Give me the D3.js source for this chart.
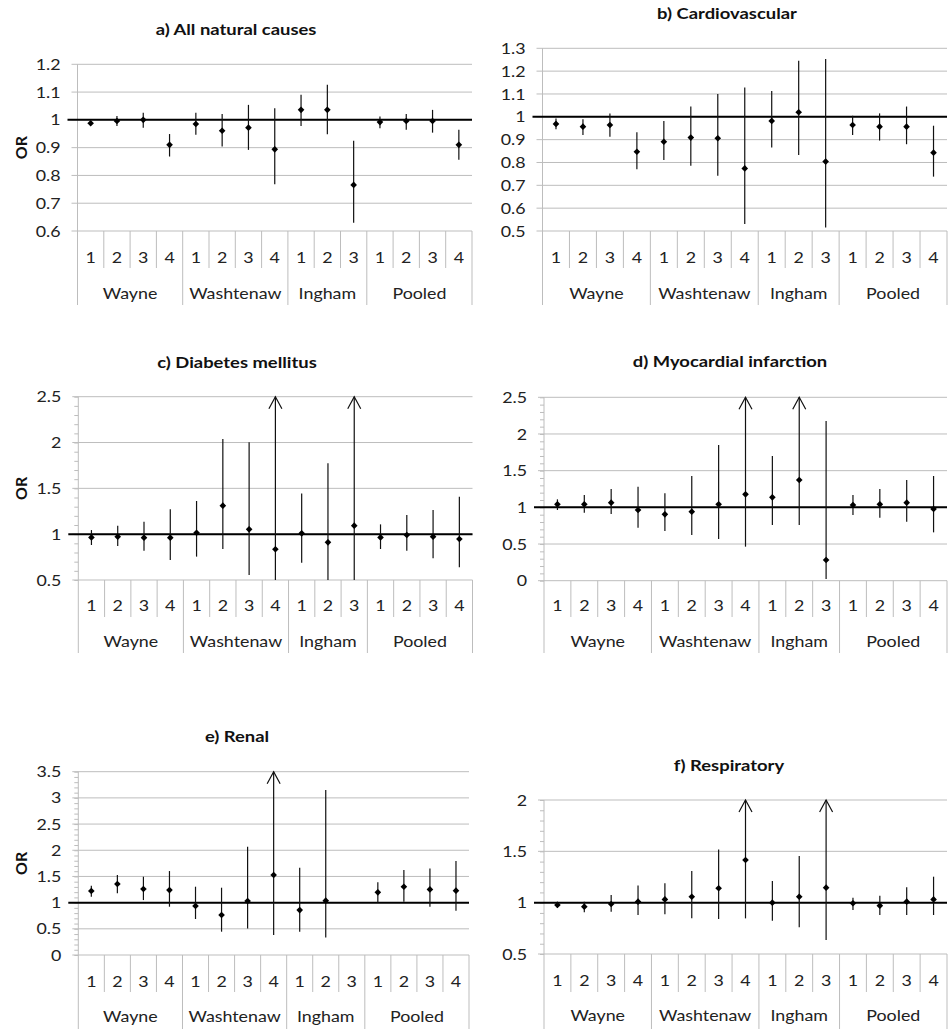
<!DOCTYPE html>
<html>
<head>
<meta charset="utf-8">
<script src="https://cdn.jsdelivr.net/npm/d3@7"></script>
<style>
  body { margin: 0; background: #fff; }
  svg { display: block; font-family: Lato, "Open Sans", sans-serif; }
</style>
</head>
<body>
<div id="chart"></div>
<script>
// categories: county groups and lag days
const groups = ["Wayne", "Washtenaw", "Ingham", "Pooled"];
const lags = [[1, 2, 3, 4], [1, 2, 3, 4], [1, 2, 3], [1, 2, 3, 4]];

// a) All natural causes
const natOR = [0.988, 0.996, 1.000, 0.910, 0.985, 0.961, 0.972, 0.894, 1.036, 1.036, 0.766, 0.992, 0.996, 0.996, 0.910];
const natLo = [0.980, 0.978, 0.972, 0.868, 0.946, 0.904, 0.892, 0.768, 0.978, 0.948, 0.630, 0.970, 0.964, 0.954, 0.856];
const natHi = [0.996, 1.014, 1.026, 0.949, 1.026, 1.021, 1.054, 1.042, 1.090, 1.126, 0.925, 1.012, 1.021, 1.036, 0.964];

// b) Cardiovascular
const cvdOR = [0.969, 0.957, 0.964, 0.847, 0.891, 0.909, 0.906, 0.774, 0.982, 1.020, 0.804, 0.964, 0.957, 0.957, 0.843];
const cvdLo = [0.945, 0.920, 0.913, 0.770, 0.811, 0.786, 0.742, 0.531, 0.866, 0.833, 0.515, 0.920, 0.896, 0.880, 0.738];
const cvdHi = [0.993, 0.989, 1.015, 0.932, 0.982, 1.045, 1.100, 1.128, 1.113, 1.245, 1.253, 1.005, 1.015, 1.045, 0.961];

// c) Diabetes mellitus
const dmOR = [0.965, 0.973, 0.962, 0.962, 1.016, 1.311, 1.053, 0.835, 1.009, 0.911, 1.093, 0.965, 0.991, 0.973, 0.947];
const dmLo = [0.882, 0.871, 0.820, 0.718, 0.755, 0.838, 0.555, 0.400, 0.689, 0.450, 0.450, 0.838, 0.820, 0.736, 0.638];
const dmHi = [1.045, 1.093, 1.136, 1.271, 1.362, 2.038, 2.002, 3.200, 1.445, 1.773, 3.500, 1.107, 1.209, 1.264, 1.409];

// d) Myocardial infarction
const miOR = [1.041, 1.041, 1.064, 0.964, 0.905, 0.941, 1.041, 1.177, 1.136, 1.373, 0.282, 1.032, 1.041, 1.064, 0.977];
const miLo = [0.964, 0.927, 0.909, 0.723, 0.677, 0.623, 0.568, 0.464, 0.759, 0.759, 0.023, 0.895, 0.859, 0.805, 0.659];
const miHi = [1.109, 1.168, 1.250, 1.282, 1.191, 1.427, 1.850, 3.000, 1.700, 2.900, 2.177, 1.168, 1.250, 1.373, 1.427];

// e) Renal (Ingham lag 3 not estimated)
const renOR = [1.221, 1.355, 1.260, 1.240, 0.935, 0.763, 1.030, 1.527, 0.858, 1.037, null, 1.196, 1.304, 1.253, 1.228];
const renLo = [1.113, 1.177, 1.049, 0.922, 0.687, 0.445, 0.508, 0.381, 0.445, 0.336, null, 0.998, 1.017, 0.922, 0.846];
const renHi = [1.323, 1.527, 1.495, 1.603, 1.304, 1.285, 2.068, 4.500, 1.667, 3.150, null, 1.387, 1.622, 1.654, 1.794];

// f) Respiratory
const resOR = [0.977, 0.961, 0.987, 1.010, 1.032, 1.058, 1.140, 1.416, 1.000, 1.058, 1.146, 0.994, 0.971, 1.010, 1.032];
const resLo = [0.951, 0.906, 0.912, 0.880, 0.886, 0.847, 0.841, 0.847, 0.825, 0.760, 0.636, 0.929, 0.880, 0.880, 0.880];
const resHi = [1.010, 1.010, 1.075, 1.166, 1.188, 1.308, 1.519, 2.400, 1.211, 1.455, 2.600, 1.049, 1.068, 1.149, 1.253];

// y ticks per panel
const natTicks = [0.6, 0.7, 0.8, 0.9, 1, 1.1, 1.2];
const cvdTicks = [0.5, 0.6, 0.7, 0.8, 0.9, 1, 1.1, 1.2, 1.3];
const dmTicks = [0.5, 1, 1.5, 2, 2.5];
const miTicks = [0, 0.5, 1, 1.5, 2, 2.5];
const renTicks = [0, 0.5, 1, 1.5, 2, 2.5, 3, 3.5];
const resTicks = [0.5, 1, 1.5, 2];

// flat category list
let cats = [];
groups.forEach((g, gi) => lags[gi].forEach(l => cats.push({ group: g, gi: gi, lag: l, id: g + "-" + l })));

function rows(or, lo, hi) {
    return cats.map((c, i) => ({ cat: c, or: or[i], lo: lo[i], hi: hi[i] }));
}

const panels = [
    { title: "a) All natural causes", data: rows(natOR, natLo, natHi), ticks: natTicks, minor: false, showOR: true,
      left: 77.5, right: 472, top: 64.3, bottom: 231, digitY: 257, groupY: 293, sepShort: 268, sepLong: 305, titleX: 236, titleY: 35 },
    { title: "b) Cardiovascular", data: rows(cvdOR, cvdLo, cvdHi), ticks: cvdTicks, minor: false, showOR: false,
      left: 542.5, right: 947, top: 48.3, bottom: 231, digitY: 257, groupY: 293, sepShort: 268, sepLong: 305, titleX: 727, titleY: 19 },
    { title: "c) Diabetes mellitus", data: rows(dmOR, dmLo, dmHi), ticks: dmTicks, minor: true, showOR: true,
      left: 78.3, right: 472.5, top: 396.7, bottom: 580, digitY: 605, groupY: 641.7, sepShort: 617, sepLong: 653, titleX: 237, titleY: 368 },
    { title: "d) Myocardial infarction", data: rows(miOR, miLo, miHi), ticks: miTicks, minor: true, showOR: false,
      left: 544, right: 947, top: 397.3, bottom: 580.7, digitY: 605, groupY: 641.7, sepShort: 617, sepLong: 653, titleX: 730, titleY: 367 },
    { title: "e) Renal", data: rows(renOR, renLo, renHi), ticks: renTicks, minor: true, showOR: true,
      left: 78.3, right: 469, top: 771.7, bottom: 955, digitY: 981.7, groupY: 1016.7, sepShort: 992, sepLong: 1029, titleX: 237, titleY: 742 },
    { title: "f) Respiratory", data: rows(resOR, resLo, resHi), ticks: resTicks, minor: true, showOR: false,
      left: 544, right: 947, top: 800, bottom: 954, digitY: 980, groupY: 1015, sepShort: 992, sepLong: 1029, titleX: 729, titleY: 771 }
];

const W = 948, H = 1029;
const gridColor = "#bdbdbd";
const stretch = 1.15; // the source text is a bit wide
const fs = 15.5;

let svg = d3.select("#chart").append("svg")
    .attr("width", W)
    .attr("height", H);

// text placed by transform so it can be widened a little
function label(sel, tx, ty) {
    return sel.attr("transform", (d, i) => `translate(${tx(d, i)},${ty(d, i)}) scale(${stretch},1)`);
}

panels.forEach(function(p) {
    let g = svg.append("g");
    let yMin = d3.min(p.ticks), yMax = d3.max(p.ticks);

    let x = d3.scaleBand()
        .domain(cats.map(c => c.id))
        .range([p.left, p.right]);
    let y = d3.scaleLinear()
        .domain([yMin, yMax])
        .range([p.bottom, p.top])
        .clamp(true);
    let cx = d => x(d.cat.id) + x.bandwidth() / 2;

    // minor ticks every 0.1
    if (p.minor) {
        let minorVals = d3.range(Math.round(yMin * 10), Math.round(yMax * 10) + 1).map(v => v / 10);
        g.append("g")
            .attr("transform", `translate(${p.left},0)`)
            .call(d3.axisLeft(y).tickValues(minorVals).tickSize(4).tickFormat(""))
            .call(a => a.select(".domain").remove())
            .call(a => a.selectAll("line").attr("stroke", gridColor));
    }

    // gridlines
    g.selectAll(".grid").data(p.ticks).join("line")
        .attr("x1", p.left - 6).attr("x2", p.right)
        .attr("y1", d => y(d)).attr("y2", d => y(d))
        .attr("stroke", gridColor).attr("stroke-width", 1);

    // y tick labels
    g.selectAll(".ytl").data(p.ticks).join("text")
        .call(label, () => p.left - 17, d => y(d))
        .attr("dy", "0.36em")
        .attr("text-anchor", "end")
        .attr("font-size", fs).attr("fill", "#222")
        .text(d3.format("~g"));

    // category separators: axis line, short ones between lags, long ones between groups
    let bounds = [];
    cats.forEach((c, i) => {
        let first = i === 0 || cats[i - 1].gi !== c.gi;
        bounds.push({ x: x(c.id), long: first, axis: i === 0 });
    });
    bounds.push({ x: p.right, long: true, axis: false });
    g.selectAll(".sep").data(bounds).join("line")
        .attr("x1", d => d.x).attr("x2", d => d.x)
        .attr("y1", d => d.axis ? p.top : p.bottom)
        .attr("y2", d => d.long ? p.sepLong : p.sepShort)
        .attr("stroke", gridColor).attr("stroke-width", 1);

    // lag digits
    g.selectAll(".lag").data(cats).join("text")
        .call(label, d => x(d.id) + x.bandwidth() / 2, () => p.digitY)
        .attr("dy", "0.36em")
        .attr("text-anchor", "middle")
        .attr("font-size", fs).attr("fill", "#222")
        .text(d => d.lag);

    // group labels
    g.selectAll(".grp").data(groups).join("text")
        .call(label, (d, gi) => {
            let ids = cats.filter(c => c.gi === gi);
            let a = x(ids[0].id), b = x(ids[ids.length - 1].id) + x.bandwidth();
            return (a + b) / 2;
        }, () => p.groupY)
        .attr("dy", "0.36em")
        .attr("text-anchor", "middle")
        .attr("font-size", fs).attr("fill", "#222")
        .text(d => d);

    // reference line at OR = 1
    g.append("line")
        .attr("x1", p.left - 10).attr("x2", p.right)
        .attr("y1", y(1)).attr("y2", y(1))
        .attr("stroke", "#000").attr("stroke-width", 2);

    let pts = p.data.filter(d => d.or !== null);

    // confidence intervals
    g.selectAll(".ci").data(pts).join("line")
        .attr("x1", cx).attr("x2", cx)
        .attr("y1", d => y(d.lo)).attr("y2", d => y(d.hi))
        .attr("stroke", "#111").attr("stroke-width", 1.2);

    // arrows where the upper limit runs off the axis
    g.selectAll(".arrow").data(pts.filter(d => d.hi > yMax)).join("path")
        .attr("d", d => {
            let ax = cx(d), ay = y(yMax);
            return `M${ax - 6.5},${ay + 12} L${ax},${ay} L${ax + 6.5},${ay + 12}`;
        })
        .attr("fill", "none").attr("stroke", "#111").attr("stroke-width", 1.2);

    // point estimates
    g.selectAll(".pt").data(pts).join("path")
        .attr("d", d3.symbol(d3.symbolSquare, 22))
        .attr("transform", d => `translate(${cx(d)},${y(d.or)}) rotate(45)`)
        .attr("fill", "#000");

    // title
    g.append("text")
        .attr("transform", `translate(${p.titleX},${p.titleY}) scale(${stretch},1)`)
        .attr("text-anchor", "middle")
        .attr("font-size", 16).attr("font-weight", "bold").attr("fill", "#111")
        .text(p.title);

    if (p.showOR) {
        g.append("text")
            .attr("transform", `translate(27,${(p.top + p.bottom) / 2}) rotate(-90)`)
            .attr("text-anchor", "middle")
            .attr("font-size", 16).attr("font-weight", "bold").attr("fill", "#111")
            .text("OR");
    }
});
</script>
</body>
</html>
